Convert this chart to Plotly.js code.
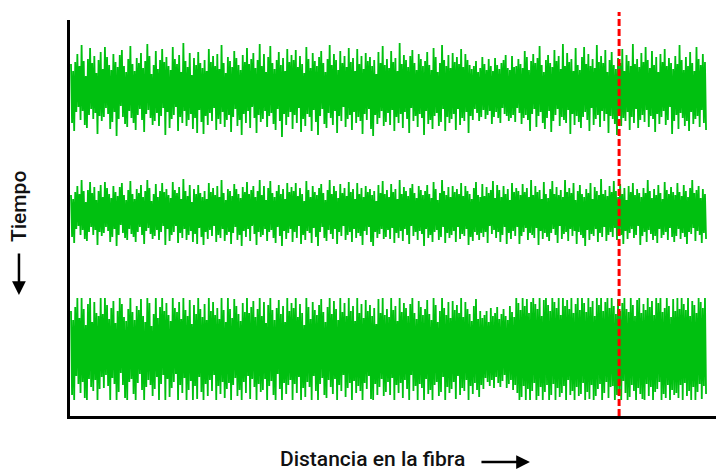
<!DOCTYPE html>
<html>
<head>
<meta charset="utf-8">
<script src="https://cdn.plot.ly/plotly-3.0.1.min.js"></script>
<style>
  html, body { margin: 0; padding: 0; background: #fff; }
  #chart { width: 717px; height: 470px; }
</style>
</head>
<body>
<div id="chart"></div>
<script>
// Signal traces recorded along the fibre at three instants (amplitude about each trace's baseline)
const signalEarly = [
  26,-33,19,-41,28,-22,36,-17,24,-30,45,-21,29,-35,14,-38,31,-25,42,-19,27,-29,34,-23,17,-44,30,-26,38,-31,
  21,-27,43,-18,33,-24,25,-39,20,-32,36,-22,28,-46,23,-29,35,-16,40,-27,24,-34,18,-37,31,-21,44,-28,26,-33,
  19,-40,32,-25,27,-19,37,-30,22,-42,29,-24,46,-20,34,-28,16,-35,25,-31,39,-23,21,-36,30,-26,41,-18,28,-45,
  33,-22,24,-38,20,-29,43,-25,31,-17,26,-41,35,-27,18,-33,47,-21,29,-36,23,-30,37,-24,15,-39,32,-28,25,-43,
  38,-20,27,-32,22,-44,30,-26,19,-35,41,-23,28,-31,34,-18,24,-40,36,-29,21,-34,45,-22,27,-37,17,-30,33,-25,
  29,-42,23,-27,39,-19,32,-36,25,-30,20,-45,35,-24,28,-33,42,-21,26,-38,31,-17,37,-28,22,-43,30,-25,46,-32,
  24,-29,36,-21,18,-37,33,-26,44,-23,27,-34,21,-40,30,-19,38,-31,25,-47,32,-24,19,-35,41,-27,28,-22,35,-39,
  30,-25,40,-33,23,-18,34,-42,26,-29,17,-36,43,-24,31,-27,22,-41,37,-20,29,-32,24,-45,33,-26,39,-19,27,-34,
  18,-38,31,-23,45,-28,25,-35,36,-21,30,-43,20,-26,39,-31,27,-17,34,-37,23,-29,42,-25,28,-40,32,-22,19,-33,
  41,-27,26,-31,34,-44,21,-24,37,-30,29,-19,33,-39,24,-46,30,-25,16,-34,38,-28,27,-21,44,-36,25,-32,31,-23,
  22,-35,39,-20,28,-41,32,-27,19,-33,47,-24,26,-38,35,-22,30,-29,23,-43,34,-18,40,-31,27,-26,20,-37,36,-24,
  31,-28,24,-45,29,-21,38,-34,25,-30,20,-39,42,-26,33,-23,18,-36,27,-32,45,-19,30,-41,24,-27,35,-33,22,-29,
  37,-24,28,-40,33,-19,26,-35,41,-28,23,-31,36,-22,30,-43,25,-26,21,-30,24,-19,29,-23,18,-31,22,-27,33,-20,
  26,-29,20,-25,31,-21,24,-34,19,-27,32,-22,25,-28,21,-33,27,-18,30,-24,35,-26,22,-31,20,-28,34,-25,23,-32,
  24,-18,31,-23,26,-34,22,-28,39,-25,33,-30,20,-41,29,-24,36,-19,27,-37,32,-26,44,-22,25,-33,18,-39,30,-28,
  35,-21,27,-42,23,-31,40,-25,29,-19,34,-36,21,-27,46,-30,24,-33,37,-20,28,-44,31,-24,19,-35,42,-26,25,-32,
  20,-38,33,-27,43,-22,26,-30,36,-41,24,-18,31,-35,22,-29,45,-25,28,-37,34,-21,27,-31,40,-24,18,-43,30,-26,
  38,-29,25,-34,21,-45,32,-23,27,-36,41,-28,19,-31,35,-22,29,-40,24,-27,46,-33,26,-19,31,-38,23,-30,37,-25,
  28,-32,43,-20,30,-37,22,-26,39,-29,25,-42,33,-24,18,-34,36,-27,28,-21,41,-35,24,-30,32,-17,27,-44,21,-31,
  34,-25,26,-39,45,-23,30,-28,20,-36,33,-31,24,-41,38,-22,27,-34,19,-29,43,-26,31,-37,25,-20,36,-33,28,-40
];
const signalMiddle = [
  18,-24,14,-30,21,-16,27,-13,19,-22,33,-17,22,-26,11,-28,23,-19,31,-14,20,-22,26,-17,13,-32,22,-19,28,-23,
  16,-20,31,-14,25,-18,19,-29,15,-24,27,-16,21,-33,17,-22,26,-12,30,-20,18,-25,13,-27,23,-16,32,-21,19,-24,
  14,-29,24,-19,20,-14,28,-22,16,-31,22,-18,33,-15,25,-21,12,-26,19,-23,29,-17,16,-27,22,-19,30,-13,21,-32,
  24,-16,18,-28,15,-22,31,-19,23,-13,20,-30,26,-20,14,-25,34,-16,22,-27,17,-22,28,-18,11,-29,24,-21,19,-31,
  28,-15,20,-24,16,-32,22,-19,14,-26,30,-17,21,-23,25,-13,18,-29,27,-22,16,-25,33,-16,20,-28,13,-22,24,-19,
  22,-31,17,-20,29,-14,24,-27,19,-22,15,-33,26,-18,21,-24,31,-16,19,-28,23,-13,27,-21,16,-32,22,-19,33,-24,
  18,-22,27,-16,13,-28,25,-19,32,-17,20,-25,16,-30,22,-14,28,-23,19,-33,24,-18,14,-26,30,-20,21,-16,26,-29,
  22,-19,30,-25,17,-13,25,-31,19,-22,12,-27,32,-18,23,-20,16,-30,27,-15,21,-24,18,-33,25,-19,29,-14,20,-25,
  13,-28,23,-17,33,-21,19,-26,27,-16,22,-31,15,-19,29,-23,20,-13,25,-27,17,-22,31,-19,21,-29,24,-16,14,-25,
  30,-20,19,-23,25,-32,16,-18,27,-22,21,-14,24,-29,18,-33,22,-19,12,-25,28,-21,20,-16,32,-26,19,-24,23,-17,
  16,-26,29,-15,21,-30,24,-20,14,-25,33,-18,19,-28,26,-16,22,-22,17,-31,25,-13,29,-23,20,-19,15,-27,27,-18,
  23,-21,18,-33,22,-16,28,-25,19,-22,15,-29,31,-19,24,-17,13,-27,20,-24,33,-14,22,-30,18,-20,26,-25,16,-22,
  27,-18,21,-29,24,-14,19,-26,30,-21,17,-23,27,-16,22,-32,19,-24,14,-28,25,-19,31,-22,18,-27,16,-20,29,-24,
  17,-19,26,-30,20,-13,23,-21,32,-17,15,-25,28,-19,23,-29,16,-22,27,-14,19,-31,24,-20,13,-26,30,-18,21,-23,
  25,-14,22,-31,18,-23,29,-19,21,-15,25,-27,16,-20,33,-22,18,-25,27,-15,21,-32,23,-18,14,-26,31,-20,19,-24,
  15,-28,24,-20,32,-16,19,-22,26,-30,18,-13,23,-26,16,-21,33,-19,21,-28,25,-16,20,-23,30,-18,13,-31,22,-19,
  28,-22,19,-25,16,-33,24,-17,20,-27,30,-21,14,-23,26,-16,22,-29,18,-20,34,-24,19,-14,23,-28,17,-22,27,-19,
  21,-24,32,-15,22,-27,16,-19,29,-22,19,-31,25,-18,13,-26,27,-20,21,-16,30,-25,18,-22,24,-13,20,-32,16,-23,
  25,-19,20,-29,33,-17,22,-21,15,-27,24,-23,18,-30,28,-16,20,-25,14,-22,31,-19,23,-27,19,-15,26,-24,21,-29,
  18,-23,30,-16,21,-26,17,-20,28,-24,22,-31,16,-19,25,-21,33,-15,20,-28,23,-18,27,-22,15,-30,24,-20,19,-26
];
const signalLate = [
  38,-46,29,-51,42,-27,51,-35,31,-44,51,-33,40,-49,24,-51,45,-30,51,-38,27,-42,47,-31,36,-51,33,-40,51,-28,
  35,-39,51,-26,44,-37,30,-51,41,-29,48,-35,26,-51,38,-43,51,-24,45,-36,32,-49,28,-51,40,-33,51,-30,37,-45,
  29,-51,43,-34,39,-25,50,-41,33,-51,27,-38,51,-31,46,-36,23,-47,35,-40,51,-28,31,-51,42,-35,51,-26,38,-51,
  46,-30,34,-48,28,-39,51,-33,41,-25,37,-51,47,-36,30,-44,51,-29,39,-51,33,-41,49,-32,25,-51,44,-37,35,-50,
  51,-28,40,-43,32,-51,45,-35,29,-47,51,-31,38,-42,47,-26,34,-51,41,-37,30,-45,51,-33,39,-49,27,-40,51,-34,
  40,-51,31,-36,50,-29,43,-47,35,-41,28,-51,46,-33,37,-44,51,-27,36,-50,42,-30,48,-38,32,-51,40,-35,51,-43,
  33,-41,47,-30,26,-51,44,-37,51,-32,39,-46,29,-51,41,-25,49,-40,35,-51,43,-34,27,-45,51,-36,38,-31,46,-51,
  41,-35,51,-44,32,-28,45,-51,36,-39,24,-48,51,-33,42,-38,30,-51,47,-27,39,-42,34,-51,44,-35,50,-29,37,-46,
  27,-49,42,-31,51,-38,35,-45,48,-30,40,-51,29,-36,51,-42,37,-26,46,-48,33,-39,51,-34,38,-51,43,-32,28,-44,
  51,-37,36,-42,45,-51,31,-34,49,-40,38,-27,44,-50,33,-51,41,-35,25,-46,50,-38,36,-30,51,-47,34,-43,40,-33,
  32,-46,51,-29,39,-51,43,-36,28,-44,51,-34,37,-49,46,-31,41,-40,33,-51,45,-26,51,-42,36,-37,30,-51,48,-35,
  42,-39,34,-51,40,-30,49,-45,35,-41,29,-51,51,-36,44,-33,27,-47,38,-43,51,-28,41,-51,34,-38,47,-44,31,-40,
  48,-33,39,-50,44,-27,36,-46,51,-39,32,-42,47,-31,40,-51,35,-37,28,-45,43,-34,50,-41,30,-48,38,-36,31,-40,
  34,-29,38,-33,27,-37,41,-31,33,-39,36,-28,42,-34,30,-38,35,-32,40,-26,33,-39,29,-35,43,-31,37,-41,32,-36,
  51,-44,46,-51,39,-48,51,-37,43,-51,50,-40,36,-51,47,-42,51,-34,45,-51,40,-47,51,-38,33,-51,49,-43,51,-36,
  44,-51,38,-46,51,-35,47,-51,41,-39,51,-48,34,-44,51,-37,43,-51,49,-31,40,-46,51,-42,36,-51,45,-38,51,-47,
  39,-45,51,-34,46,-51,37,-43,51,-50,42,-36,48,-51,33,-47,51,-40,44,-35,51,-51,38,-44,47,-33,51,-49,41,-38,
  51,-37,43,-51,35,-46,50,-41,38,-51,46,-32,51,-44,40,-51,37,-48,51,-36,44,-42,33,-51,49,-39,51,-45,36,-50,
  45,-51,39,-35,51,-47,42,-38,48,-51,34,-43,51,-40,46,-33,51,-51,37,-45,41,-49,51,-36,43,-51,32,-41,50,-46,
  38,-44,51,-49,40,-36,51,-51,45,-34,39,-47,51,-42,33,-51,48,-38,44,-51,36,-43,51,-35,47,-50,41,-37,51,-45
];

// Baseline of each trace on the (downward-running) time axis
const baselines = [326, 203, 67];
const signals = [signalEarly, signalMiddle, signalLate];

// Sample index where the event is located along the fibre
const eventPosition = 517;

const lineColor = '#00c010';
const font = { family: 'Roboto, "DejaVu Sans", sans-serif', size: 21, weight: 500, color: '#111' };

const traces = signals.map((sig, k) => ({
  type: 'scatter',
  mode: 'lines',
  x: sig.map((_, i) => i),
  y: sig.map(v => baselines[k] + v),
  line: { color: lineColor, width: 1.8 },
  hoverinfo: 'skip'
}));

const layout = {
  width: 717,
  height: 470,
  margin: { l: 70, r: 1, t: 20, b: 54 },
  paper_bgcolor: '#fff',
  plot_bgcolor: '#fff',
  showlegend: false,
  xaxis: {
    range: [-0.94, 608.4],
    showline: true, linecolor: '#000', linewidth: 3,
    showgrid: false, zeroline: false, showticklabels: false, ticks: ''
  },
  yaxis: {
    range: [0, 396],
    showline: true, linecolor: '#000', linewidth: 3,
    showgrid: false, zeroline: false, showticklabels: false, ticks: ''
  },
  shapes: [{
    type: 'line', xref: 'x', yref: 'paper',
    x0: eventPosition, x1: eventPosition, y0: 0, y1: 1.02,
    line: { color: '#ff0000', width: 3, dash: '7px,3px' }
  }],
  annotations: [
    {
      text: 'Tiempo', xref: 'paper', yref: 'paper',
      x: -0.079, y: 0.53, textangle: -90, showarrow: false,
      xanchor: 'center', yanchor: 'middle', font: font
    },
    {
      text: '', xref: 'paper', yref: 'paper',
      x: -0.079, y: 0.3056, ax: 0, ay: -43,
      showarrow: true, arrowhead: 2, arrowsize: 1.1, arrowwidth: 2.5, arrowcolor: '#000'
    },
    {
      text: 'Distancia en la fibra', xref: 'paper', yref: 'paper',
      x: 0.469, y: -0.109, showarrow: false,
      xanchor: 'center', yanchor: 'middle', font: font
    },
    {
      text: '', xref: 'paper', yref: 'paper',
      x: 0.712, y: -0.1162, ax: -50, ay: 0,
      showarrow: true, arrowhead: 2, arrowsize: 1.1, arrowwidth: 2.5, arrowcolor: '#000'
    }
  ]
};

Plotly.newPlot('chart', traces, layout, { displayModeBar: false, staticPlot: true });
</script>
</body>
</html>
